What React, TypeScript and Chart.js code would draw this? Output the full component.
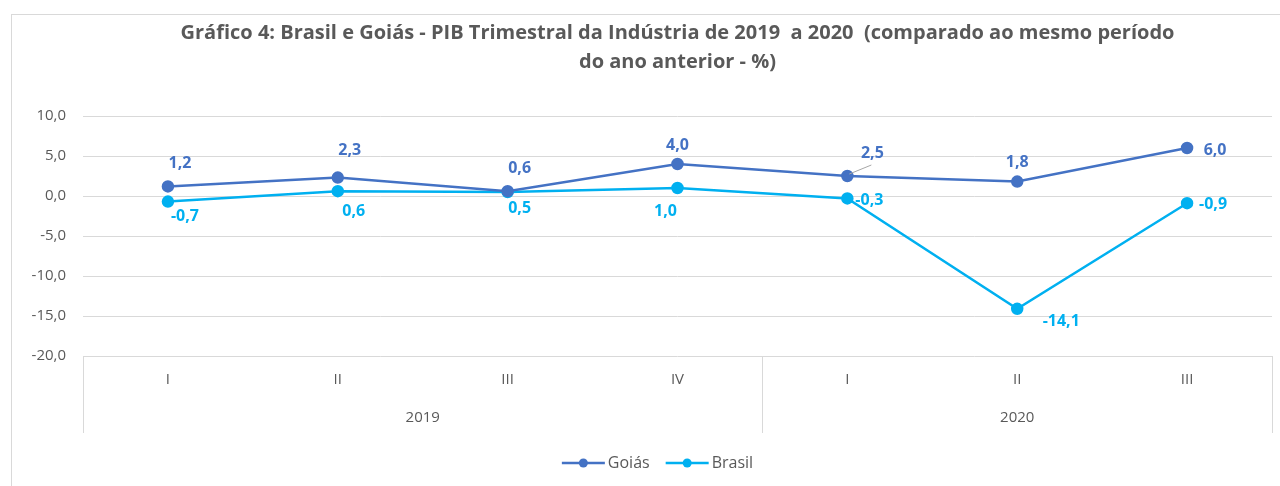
import React, { useEffect, useRef } from "react";
import { Chart, registerables } from "chart.js";

Chart.register(...registerables);

const quarters = ["I", "II", "III", "IV", "I", "II", "III"];
const years = ["2019", "2020"];
const yearSpans = [4, 3];
const goias = [1.2, 2.3, 0.6, 4.0, 2.5, 1.8, 6.0];
const brasil = [-0.7, 0.6, 0.5, 1.0, -0.3, -14.1, -0.9];
const seriesNames = ["Goiás", "Brasil"];
const titleLines = [
  "Gráfico 4: Brasil e Goiás - PIB Trimestral da Indústria de 2019  a 2020  (comparado ao mesmo período",
  "do ano anterior - %)",
];

// label offsets (style, not data)
const goiasLabelOffsets = [[12, -23], [12, -27], [12, -23], [0, -19], [25, -23], [0, -19], [28, 2]];
const brasilLabelOffsets = [[17, 15], [16, 20], [12, 16], [-12, 23], [22, 2], [44, 13], [26, 1]];

const GOIAS_COLOR = "#4472C4";
const BRASIL_COLOR = "#00B0F0";
const TEXT_COLOR = "#595959";
const GRID_COLOR = "#D9D9D9";
const FONT = "'Open Sans', Lato, sans-serif";

const fmt = (v: number) => v.toFixed(1).replace(".", ",");

function legendSymbol(ctx: CanvasRenderingContext2D, x: number, y: number, color: string) {
  ctx.save();
  ctx.strokeStyle = color;
  ctx.lineWidth = 2.5;
  ctx.beginPath();
  ctx.moveTo(x, y);
  ctx.lineTo(x + 43, y);
  ctx.stroke();
  ctx.fillStyle = color;
  ctx.beginPath();
  ctx.arc(x + 21.5, y, 4.5, 0, Math.PI * 2);
  ctx.fill();
  ctx.restore();
}

const decorPlugin = {
  id: "decor",
  beforeDraw(chart: any) {
    const ctx = chart.ctx as CanvasRenderingContext2D;
    ctx.save();
    ctx.strokeStyle = GRID_COLOR;
    ctx.lineWidth = 1;
    ctx.strokeRect(11.5, 14.5, 1300, 500);
    ctx.restore();
  },
  afterDraw(chart: any) {
    const ctx = chart.ctx as CanvasRenderingContext2D;
    const area = chart.chartArea;
    const step = (area.right - area.left) / quarters.length;

    // multi-level axis separators
    ctx.save();
    ctx.strokeStyle = GRID_COLOR;
    ctx.lineWidth = 1;
    const sepBottom = area.bottom + 77;
    let idx = 0;
    const bounds: number[] = [0];
    yearSpans.forEach((s) => {
      idx += s;
      bounds.push(idx);
    });
    bounds.forEach((b) => {
      const x = Math.round(area.left + b * step) + 0.5;
      ctx.beginPath();
      ctx.moveTo(x, area.bottom);
      ctx.lineTo(x, sepBottom);
      ctx.stroke();
    });
    // year labels
    ctx.fillStyle = TEXT_COLOR;
    ctx.font = `15px ${FONT}`;
    ctx.textAlign = "center";
    ctx.textBaseline = "middle";
    years.forEach((yr, i) => {
      const x0 = area.left + bounds[i] * step;
      const x1 = area.left + bounds[i + 1] * step;
      ctx.fillText(yr, (x0 + x1) / 2, area.bottom + 62);
    });
    ctx.restore();

    // data labels
    const drawLabels = (data: number[], offsets: number[][], color: string, dsIndex: number) => {
      const meta = chart.getDatasetMeta(dsIndex);
      ctx.save();
      ctx.font = `bold 16px ${FONT}`;
      ctx.fillStyle = color;
      ctx.textAlign = "center";
      ctx.textBaseline = "middle";
      data.forEach((v, i) => {
        const pt = meta.data[i];
        const lx = pt.x + offsets[i][0];
        const ly = pt.y + offsets[i][1];
        ctx.fillText(fmt(v), lx, ly);
      });
      ctx.restore();
    };
    drawLabels(goias, goiasLabelOffsets, GOIAS_COLOR, 0);
    drawLabels(brasil, brasilLabelOffsets, BRASIL_COLOR, 1);

    // leader line for Goiás 2020-I label
    const m0 = chart.getDatasetMeta(0);
    const p = m0.data[4];
    ctx.save();
    ctx.strokeStyle = "#A6A6A6";
    ctx.lineWidth = 1;
    ctx.beginPath();
    ctx.moveTo(p.x + 2, p.y - 2);
    ctx.lineTo(p.x + 24, p.y - 11);
    ctx.stroke();
    ctx.restore();

    // legend
    ctx.save();
    ctx.font = `16px ${FONT}`;
    ctx.textBaseline = "middle";
    ctx.textAlign = "left";
    const colors = [GOIAS_COLOR, BRASIL_COLOR];
    const symW = 43;
    const gap = 3;
    const itemGap = 16;
    const widths = seriesNames.map((n) => symW + gap + ctx.measureText(n).width);
    const total = widths.reduce((a, b) => a + b, 0) + itemGap * (seriesNames.length - 1);
    let lx = (area.left + area.right) / 2 - 20 - total / 2;
    const ly = area.bottom + 107;
    seriesNames.forEach((n, i) => {
      legendSymbol(ctx, lx, ly, colors[i]);
      ctx.fillStyle = TEXT_COLOR;
      ctx.fillText(n, lx + symW + gap, ly);
      lx += widths[i] + itemGap;
    });
    ctx.restore();
  },
};

export default function App() {
  const ref = useRef<HTMLCanvasElement | null>(null);
  useEffect(() => {
    if (!ref.current) return;
    const chart = new Chart(ref.current, {
      type: "line",
      data: {
        labels: quarters,
        datasets: [
          {
            label: seriesNames[0],
            data: goias,
            borderColor: GOIAS_COLOR,
            backgroundColor: GOIAS_COLOR,
            borderWidth: 2.5,
            pointRadius: 5,
            pointBackgroundColor: GOIAS_COLOR,
            pointBorderColor: GOIAS_COLOR,
            tension: 0,
          },
          {
            label: seriesNames[1],
            data: brasil,
            borderColor: BRASIL_COLOR,
            backgroundColor: BRASIL_COLOR,
            borderWidth: 2.5,
            pointRadius: 5,
            pointBackgroundColor: BRASIL_COLOR,
            pointBorderColor: BRASIL_COLOR,
            tension: 0,
          },
        ],
      },
      options: {
        animation: false,
        responsive: true,
        maintainAspectRatio: false,
        layout: { padding: { left: 12, right: 8, top: 0, bottom: 53 } },
        plugins: {
          legend: { display: false },
          tooltip: { enabled: false },
          title: {
            display: true,
            fullSize: false,
            text: titleLines,
            color: TEXT_COLOR,
            font: { family: FONT, size: 20, weight: "bold", lineHeight: 1.45 },
            padding: { top: 19, bottom: 39 },
          },
        },
        scales: {
          x: {
            offset: true,
            grid: { display: false, drawTicks: false },
            border: { display: false },
            ticks: { color: TEXT_COLOR, font: { family: FONT, size: 15 }, padding: 15, maxRotation: 0, autoSkip: false },
            afterFit: (s: any) => {
              s.height = 77;
            },
          },
          y: {
            min: -20,
            max: 10,
            grid: { color: GRID_COLOR, lineWidth: 1, drawTicks: false },
            border: { display: false },
            ticks: {
              stepSize: 5,
              color: TEXT_COLOR,
              font: { family: FONT, size: 15 },
              padding: 17,
              callback: (v: any) => fmt(Number(v)),
            },
            afterFit: (s: any) => {
              s.width = 71;
            },
          },
        },
      },
      plugins: [decorPlugin],
    });
    return () => chart.destroy();
  }, []);
  return (
    <div style={{ position: "fixed", left: 0, top: 0, width: 1280, height: 486, background: "#fff" }}>
      <canvas ref={ref} />
    </div>
  );
}
